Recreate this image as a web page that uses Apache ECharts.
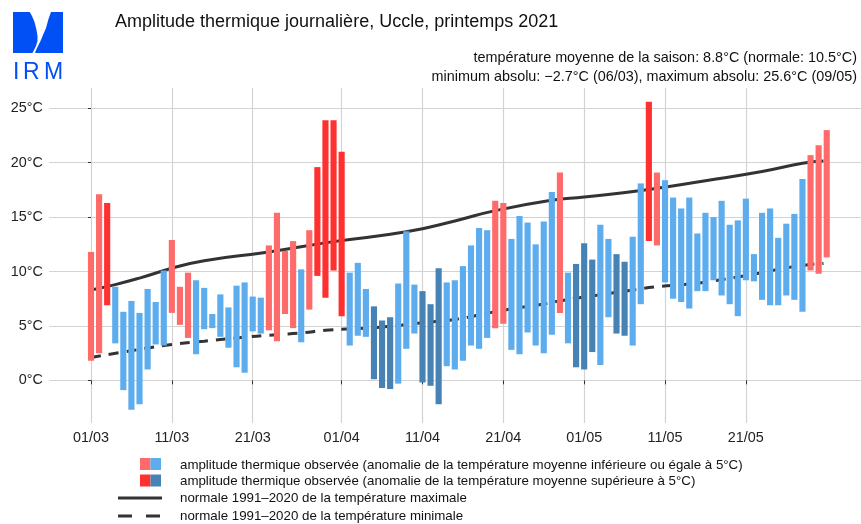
<!DOCTYPE html>
<html>
<head>
<meta charset="utf-8">
<title>Amplitude thermique journalière, Uccle, printemps 2021</title>
<script src="https://cdn.jsdelivr.net/npm/echarts@6/dist/echarts.min.js"></script>
<style>
  html, body { margin: 0; padding: 0; background: #fff; }
  #chart { width: 861px; height: 524px; }
</style>
</head>
<body>
<div id="chart"></div>
<script>
// index du jour : 0 = 01/03, 31 = 01/04, 61 = 01/05
var tmax = [11.8, 17.1, 16.3, 8.6, 6.3, 7.3, 6.2, 8.4, 7.2, 10.1,
            12.9, 8.6, 9.9, 9.2, 8.5, 6.1, 7.9, 6.7, 8.7, 9.0,
            7.7, 7.6, 12.4, 15.4, 11.9, 12.8, 10.2, 13.8, 19.6, 23.9,
            23.9, 21.0, 9.9, 10.8, 8.4, 6.8, 5.5, 5.8, 8.9, 13.7,
            8.8, 8.2, 7.0, 10.3, 9.0, 9.2, 10.5, 12.4, 14.0, 13.8,
            16.5, 16.3, 13.0, 15.1, 14.5, 12.5, 14.6, 17.3, 19.1, 9.9,
            10.7, 12.6, 11.1, 14.3, 13.0, 11.6, 10.9, 13.2, 18.1, 25.6,
            19.1, 18.4, 16.8, 15.8, 16.8, 13.5, 15.4, 15.0, 16.5, 14.3,
            14.7, 16.7, 11.6, 15.4, 15.8, 13.1, 14.4, 15.3, 18.5, 20.7,
            21.6, 23.0];
var tmin = [1.8, 2.5, 6.9, 3.4, -0.9, -2.7, -2.2, 1.0, 3.3, 3.2,
            6.2, 5.1, 3.9, 2.4, 4.7, 4.8, 4.0, 3.0, 1.2, 0.7,
            4.5, 4.3, 4.6, 3.6, 6.1, 4.8, 3.5, 6.5, 9.6, 7.6,
            10.1, 5.9, 3.2, 4.1, 4.0, 0.1, -0.7, -0.8, -0.3, 2.9,
            4.3, -0.2, -0.5, -2.2, 1.3, 1.0, 1.8, 3.2, 2.9, 3.9,
            4.8, 5.2, 2.8, 2.4, 4.4, 3.2, 2.5, 4.2, 6.2, 3.4,
            1.2, 1.0, 2.6, 1.4, 5.8, 4.3, 4.1, 3.2, 7.0, 12.8,
            12.4, 9.0, 7.5, 7.2, 6.6, 8.2, 8.2, 9.2, 7.8, 7.0,
            5.9, 9.2, 9.1, 7.4, 6.9, 6.9, 7.8, 7.4, 6.3, 10.1,
            9.8, 11.3];
// lr/r = chaud (faible / > 5°C), lb/db = froid (faible / > 5°C)
var anomalie = ['lr','lr','r','lb','lb','lb','lb','lb','lb','lb',
                'lr','lr','lr','lb','lb','lb','lb','lb','lb','lb',
                'lb','lb','lr','lr','lr','lr','lb','lr','r','r',
                'r','r','lb','lb','lb','db','db','db','lb','lb',
                'lb','db','db','db','lb','lb','lb','lb','lb','lb',
                'lr','lr','lb','lb','lb','lb','lb','lb','lr','lb',
                'db','db','db','lb','lb','db','db','lb','lb','r',
                'lr','lb','lb','lb','lb','lb','lb','lb','lb','lb',
                'lb','lb','lb','lb','lb','lb','lb','lb','lb','lr',
                'lr','lr'];
var normMax = [[0, 8.3], [3, 8.8], [6, 9.4], [10, 10.3], [14, 11.0], [22, 11.8],
               [30, 12.75], [39, 13.65], [45, 14.65], [50, 15.6], [57, 16.55],
               [61, 16.85], [69, 17.55], [76, 18.35], [83, 19.2], [88, 19.95], [90.6, 20.15]];
var normMin = [[0, 2.1], [4, 2.6], [10, 3.3], [14, 3.6], [18, 3.9], [23, 4.2], [26, 4.35],
               [29, 4.6], [36, 4.9], [41, 5.3], [45, 5.6], [51, 6.45], [55, 6.9], [58, 7.3],
               [61, 7.65], [67, 8.3], [70, 8.6], [74, 8.85], [77, 9.15], [80, 9.5], [83, 9.9],
               [86, 10.35], [89, 10.65], [90.6, 10.75]];
var xTickDays = [0, 10, 20, 31, 41, 51, 61, 71, 81];
var xTickLabels = ['01/03', '11/03', '21/03', '01/04', '11/04', '21/04', '01/05', '11/05', '21/05'];
var yTicks = [0, 5, 10, 15, 20, 25];

var colors = { lr: '#ff6a6a', r: '#ff3030', lb: '#5cacee', db: '#4682b4' };
var font = "'Liberation Sans', Arial, sans-serif";

var bars = tmax.map(function (v, i) { return [i, tmin[i], v]; });
var labelFor = {};
xTickDays.forEach(function (d, i) { labelFor[d] = xTickLabels[i]; });

var myChart = echarts.init(document.getElementById('chart'));

myChart.setOption({
  animation: false,
  backgroundColor: '#fff',
  textStyle: { fontFamily: font },
  grid: { left: 49, right: 0, top: 88, bottom: 101 },
  xAxis: {
    type: 'value',
    min: -5.195,
    max: 95.24,
    axisLine: { show: false },
    axisTick: { show: true, customValues: xTickDays, length: 4, lineStyle: { color: '#333' } },
    axisLabel: {
      customValues: xTickDays, margin: 8, color: '#222', fontSize: 14.4, fontFamily: font,
      formatter: function (v) { return labelFor[v] || ''; }
    },
    splitLine: { show: true, lineStyle: { color: '#d3d3d3', width: 1.2 } }
  },
  yAxis: {
    type: 'value',
    min: -3.92,
    max: 26.87,
    axisLine: { show: false },
    axisTick: { show: true, customValues: yTicks, length: 3, lineStyle: { color: '#333' } },
    axisLabel: {
      customValues: yTicks, margin: 6, color: '#222', fontSize: 14.4, fontFamily: font,
      formatter: function (v) { return v + '°C'; }
    },
    splitLine: { show: true, lineStyle: { color: '#d3d3d3', width: 1.2 } }
  },
  series: [{
    name: 'normale max',
    type: 'line',
    z: 1,
    data: normMax,
    smooth: true,
    symbol: 'none',
    lineStyle: { color: '#333', width: 3 }
  }, {
    name: 'normale min',
    type: 'line',
    z: 1,
    data: normMin,
    smooth: true,
    symbol: 'none',
    lineStyle: { color: '#333', width: 3, type: [10, 8] }
  }, {
    name: 'amplitude',
    type: 'custom',
    z: 5,
    data: bars,
    encode: { x: 0, y: [1, 2] },
    renderItem: function (params, api) {
      var d = api.value(0);
      var top = api.coord([d, api.value(2)]);
      var bot = api.coord([d, api.value(1)]);
      var w = api.size([1, 0])[0] * 0.76;
      return {
        type: 'rect',
        shape: { x: top[0] - w / 2, y: top[1], width: w, height: bot[1] - top[1] },
        style: { fill: colors[anomalie[params.dataIndex]] }
      };
    }
  }],
  graphic: [
    // logo IRM
    { type: 'rect', shape: { x: 13, y: 12, width: 50, height: 41 }, style: { fill: '#0050f5' } },
    { type: 'polygon', shape: { points: [[29.7, 12], [32, 16], [34.5, 22], [36.5, 30], [37.5, 36], [37.5, 41], [36, 46],
        [34, 50], [32.5, 53], [35, 53], [36.5, 49], [38.5, 45], [40.5, 41], [43, 35], [46, 28], [48.5, 19], [51, 12]] },
      style: { fill: '#fff' } },
    { type: 'text', x: 13, y: 73, style: { text: 'I', font: '23px ' + font, fill: '#0050f5', verticalAlign: 'middle' } },
    { type: 'text', x: 23, y: 73, style: { text: 'R', font: '23px ' + font, fill: '#0050f5', verticalAlign: 'middle' } },
    { type: 'text', x: 44, y: 73, style: { text: 'M', font: '23px ' + font, fill: '#0050f5', verticalAlign: 'middle' } },
    // titres
    { type: 'text', x: 115, y: 21.7, style: { text: 'Amplitude thermique journalière, Uccle, printemps 2021',
      font: '18px ' + font, fill: '#111', verticalAlign: 'middle' } },
    { type: 'text', x: 857, y: 58.5, style: { text: 'température moyenne de la saison: 8.8°C (normale: 10.5°C)',
      font: '14.4px ' + font, fill: '#111', align: 'right', verticalAlign: 'middle' } },
    { type: 'text', x: 857, y: 77, style: { text: 'minimum absolu: \u22122.7°C (06/03), maximum absolu: 25.6°C (09/05)',
      font: '14.4px ' + font, fill: '#111', align: 'right', verticalAlign: 'middle' } },
    // légende
    { type: 'rect', shape: { x: 140, y: 458, width: 10.5, height: 12 }, style: { fill: colors.lr } },
    { type: 'rect', shape: { x: 150.5, y: 458, width: 10.5, height: 12 }, style: { fill: colors.lb } },
    { type: 'rect', shape: { x: 140, y: 474.5, width: 10.5, height: 12 }, style: { fill: colors.r } },
    { type: 'rect', shape: { x: 150.5, y: 474.5, width: 10.5, height: 12 }, style: { fill: colors.db } },
    { type: 'line', shape: { x1: 118, y1: 498, x2: 162, y2: 498 }, style: { stroke: '#333', lineWidth: 3 } },
    { type: 'line', shape: { x1: 118, y1: 516, x2: 162, y2: 516 }, style: { stroke: '#333', lineWidth: 3, lineDash: [14, 14] } },
    { type: 'text', x: 180, y: 465, style: { text: 'amplitude thermique observée (anomalie de la température moyenne inférieure ou égale à 5°C)',
      font: '13.3px ' + font, fill: '#111', verticalAlign: 'middle' } },
    { type: 'text', x: 180, y: 481, style: { text: 'amplitude thermique observée (anomalie de la température moyenne supérieure à 5°C)',
      font: '13.3px ' + font, fill: '#111', verticalAlign: 'middle' } },
    { type: 'text', x: 180, y: 498, style: { text: 'normale 1991\u20132020 de la température maximale',
      font: '13.3px ' + font, fill: '#111', verticalAlign: 'middle' } },
    { type: 'text', x: 180, y: 516, style: { text: 'normale 1991\u20132020 de la température minimale',
      font: '13.3px ' + font, fill: '#111', verticalAlign: 'middle' } }
  ]
});
</script>
</body>
</html>
